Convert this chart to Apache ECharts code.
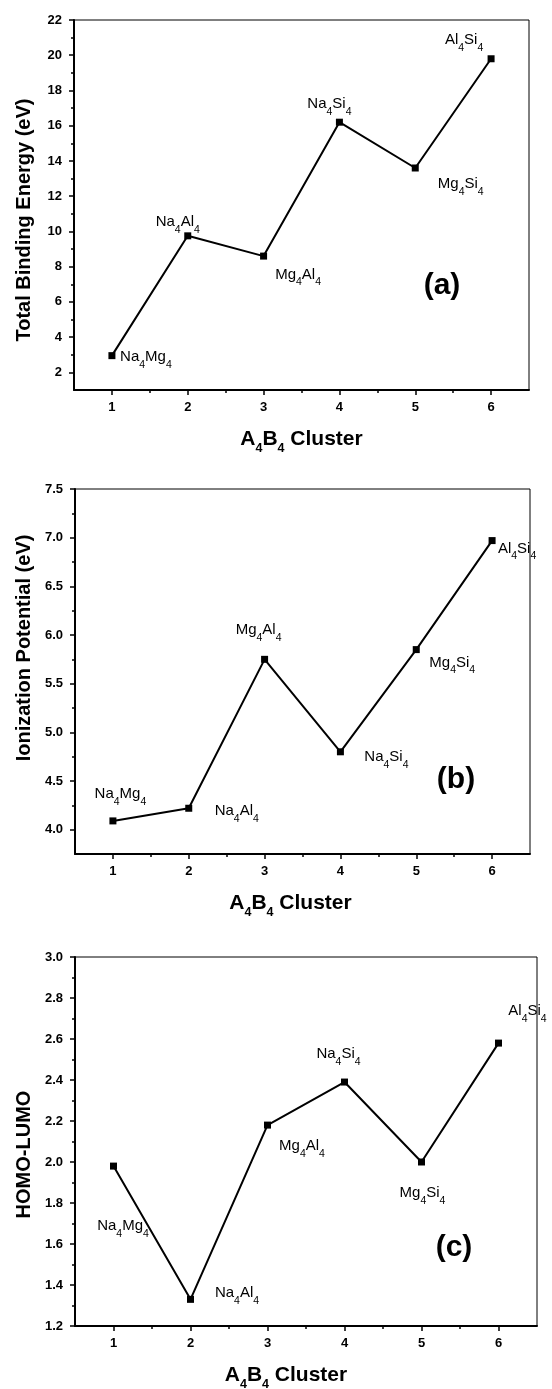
<!DOCTYPE html>
<html>
<head>
<meta charset="utf-8">
<script src="https://cdn.jsdelivr.net/npm/echarts@6.0.0/dist/echarts.min.js"></script>
<style>
  html, body { margin: 0; padding: 0; background: #fff; }
  #chart { width: 552px; height: 1389px; }
</style>
</head>
<body>
<div id="chart"></div>
<script>
// A4B4 clusters, plotted at x = 1..6
var clusters = ['Na4Mg4', 'Na4Al4', 'Mg4Al4', 'Na4Si4', 'Mg4Si4', 'Al4Si4'];
var clusterNo = [1, 2, 3, 4, 5, 6];

// (a) total binding energy (eV)
var bindingEnergy = [2.95, 9.75, 8.6, 16.2, 13.6, 19.8];
// (b) ionization potential (eV)
var ionPotential = [4.09, 4.22, 5.75, 4.8, 5.85, 6.97];
// (c) HOMO-LUMO gap
var homoLumo = [1.98, 1.33, 2.18, 2.39, 2.0, 2.58];

// tick values
var xTicks = [1, 2, 3, 4, 5, 6];
var xMinor = [1.5, 2.5, 3.5, 4.5, 5.5];
var yTicksA = [2, 4, 6, 8, 10, 12, 14, 16, 18, 20, 22];
var yMinorA = [3, 5, 7, 9, 11, 13, 15, 17, 19, 21];
var yTicksB = [4.0, 4.5, 5.0, 5.5, 6.0, 6.5, 7.0, 7.5];
var yMinorB = [4.25, 4.75, 5.25, 5.75, 6.25, 6.75, 7.25];
var yTicksC = [1.2, 1.4, 1.6, 1.8, 2.0, 2.2, 2.4, 2.6, 2.8, 3.0];
var yMinorC = [1.3, 1.5, 1.7, 1.9, 2.1, 2.3, 2.5, 2.7, 2.9];

var FONT = 'Liberation Sans, Arial, Helvetica, sans-serif';

// where each point label sits, relative to its point [dx, dy]
var labelShiftA = [[34, 1.5], [-10, -14], [34.5, 18.5], [-10, -18], [45.5, 16], [-27, -19]];
var labelShiftB = [[7.5, -27], [48, 3], [-6, -29.5], [46, 5], [36, 13], [25, 8]];
var labelShiftC = [[9.5, 60], [46.5, -6], [34.5, 21], [-6, -27.7], [1, 31], [29, -32]];

var panels = [
  { values: bindingEnergy, yTicks: yTicksA, yMinor: yMinorA, yMin: 1, yMax: 22, digits: 0,
    yName: 'Total Binding Energy (eV)', yNamePad: [0, 30, 0, 0], xNamePad: [0, 0, 0, 0],
    tag: '(a)', tagXY: [442, 286], shifts: labelShiftA,
    box: { left: 74, top: 20, width: 455, height: 370 } },
  { values: ionPotential, yTicks: yTicksB, yMinor: yMinorB, yMin: 3.75, yMax: 7.5, digits: 1,
    yName: 'Ionization Potential (eV)', yNamePad: [0, 0, 0, 47], xNamePad: [0, 24, 0, 0],
    tag: '(b)', tagXY: [456, 780], shifts: labelShiftB,
    box: { left: 75, top: 489, width: 455, height: 365 } },
  { values: homoLumo, yTicks: yTicksC, yMinor: yMinorC, yMin: 1.2, yMax: 3.0, digits: 1,
    yName: 'HOMO-LUMO', yNamePad: [0, 26, 0, 0], xNamePad: [0, 40, 0, 0],
    tag: '(c)', tagXY: [454, 1248], shifts: labelShiftC,
    box: { left: 75, top: 957, width: 462, height: 369 } }
];

// 'Na4Mg4' -> rich text with subscript digits
function subText(name, big, small) {
  return name.replace(/([^\d]+)|(\d)/g, function (m, w, d) {
    return w ? '{' + big + '|' + w + '}' : '{' + small + '|' + d + '}';
  });
}

var grids = [], xAxes = [], yAxes = [], series = [], graphics = [];

panels.forEach(function (p, i) {
  grids.push({
    left: p.box.left, top: p.box.top, width: p.box.width, height: p.box.height,
    show: true, borderColor: '#000', borderWidth: 1, backgroundColor: 'transparent',
    outerBoundsMode: 'none'
  });

  var tickFont = { color: '#000', fontFamily: FONT, fontWeight: 'bold', fontSize: 13 };

  // major x axis with labels + title
  xAxes.push({
    type: 'value', gridIndex: i, min: 0.5, max: 6.5, position: 'bottom',
    axisLine: { show: true, onZero: false, lineStyle: { color: '#000', width: 2 } },
    axisTick: { show: true, customValues: xTicks, length: 5, lineStyle: { color: '#000', width: 1.5 } },
    axisLabel: Object.assign({ customValues: xTicks, margin: 11 }, tickFont),
    splitLine: { show: false },
    name: subText('A4B4 Cluster', 'b', 's'),
    nameLocation: 'middle', nameGap: 37,
    nameTextStyle: {
      padding: p.xNamePad,
      rich: {
        b: { fontFamily: FONT, fontWeight: 'bold', fontSize: 21, color: '#000', lineHeight: 24 },
        s: { fontFamily: FONT, fontWeight: 'bold', fontSize: 12.5, color: '#000', lineHeight: 12, padding: [19, 0, 0, 0] }
      }
    }
  });
  // minor x ticks
  xAxes.push({
    type: 'value', gridIndex: i, min: 0.5, max: 6.5, position: 'bottom',
    axisLine: { show: false, onZero: false },
    axisTick: { show: true, customValues: xMinor, length: 3, lineStyle: { color: '#000', width: 1.5 } },
    axisLabel: { show: false }, splitLine: { show: false }
  });

  yAxes.push({
    type: 'value', gridIndex: i, min: p.yMin, max: p.yMax, position: 'left',
    axisLine: { show: true, onZero: false, lineStyle: { color: '#000', width: 2 } },
    axisTick: { show: true, customValues: p.yTicks, length: 5, lineStyle: { color: '#000', width: 1.5 } },
    axisLabel: Object.assign({
      customValues: p.yTicks, margin: 12,
      formatter: (function (d) { return function (v) { return Number(v).toFixed(d); }; })(p.digits)
    }, tickFont),
    splitLine: { show: false },
    name: p.yName, nameLocation: 'middle', nameGap: 40, nameRotate: 90,
    nameTextStyle: { fontFamily: FONT, fontWeight: 'bold', fontSize: 20, color: '#000', padding: p.yNamePad }
  });
  // minor y ticks
  yAxes.push({
    type: 'value', gridIndex: i, min: p.yMin, max: p.yMax, position: 'left',
    axisLine: { show: false, onZero: false },
    axisTick: { show: true, customValues: p.yMinor, length: 3, lineStyle: { color: '#000', width: 1.5 } },
    axisLabel: { show: false }, splitLine: { show: false }
  });

  series.push({
    type: 'line', xAxisIndex: 2 * i, yAxisIndex: 2 * i,
    data: p.values.map(function (v, k) {
      return { value: [clusterNo[k], v], label: { offset: p.shifts[k] } };
    }),
    symbol: 'rect', symbolSize: 7,
    itemStyle: { color: '#000' },
    lineStyle: { color: '#000', width: 2 },
    label: {
      show: true, position: 'inside', align: 'center', verticalAlign: 'middle', color: '#000',
      formatter: function (prm) { return subText(clusters[prm.dataIndex], 'n', 's'); },
      rich: {
        n: { fontFamily: FONT, fontSize: 15, color: '#000', lineHeight: 18 },
        s: { fontFamily: FONT, fontSize: 10.5, color: '#000', lineHeight: 11, padding: [16, 0, 0, 0] }
      }
    },
    emphasis: { disabled: true },
    animation: false
  });

  graphics.push({
    type: 'text', x: p.tagXY[0], y: p.tagXY[1],
    style: {
      text: p.tag, font: 'bold 30px ' + FONT, fill: '#000',
      align: 'center', verticalAlign: 'middle', textAlign: 'center', textVerticalAlign: 'middle'
    }
  });
});

var chart = echarts.init(document.getElementById('chart'), null, { renderer: 'canvas' });
chart.setOption({
  backgroundColor: '#fff',
  animation: false,
  grid: grids,
  xAxis: xAxes,
  yAxis: yAxes,
  series: series,
  graphic: graphics
});
</script>
</body>
</html>
